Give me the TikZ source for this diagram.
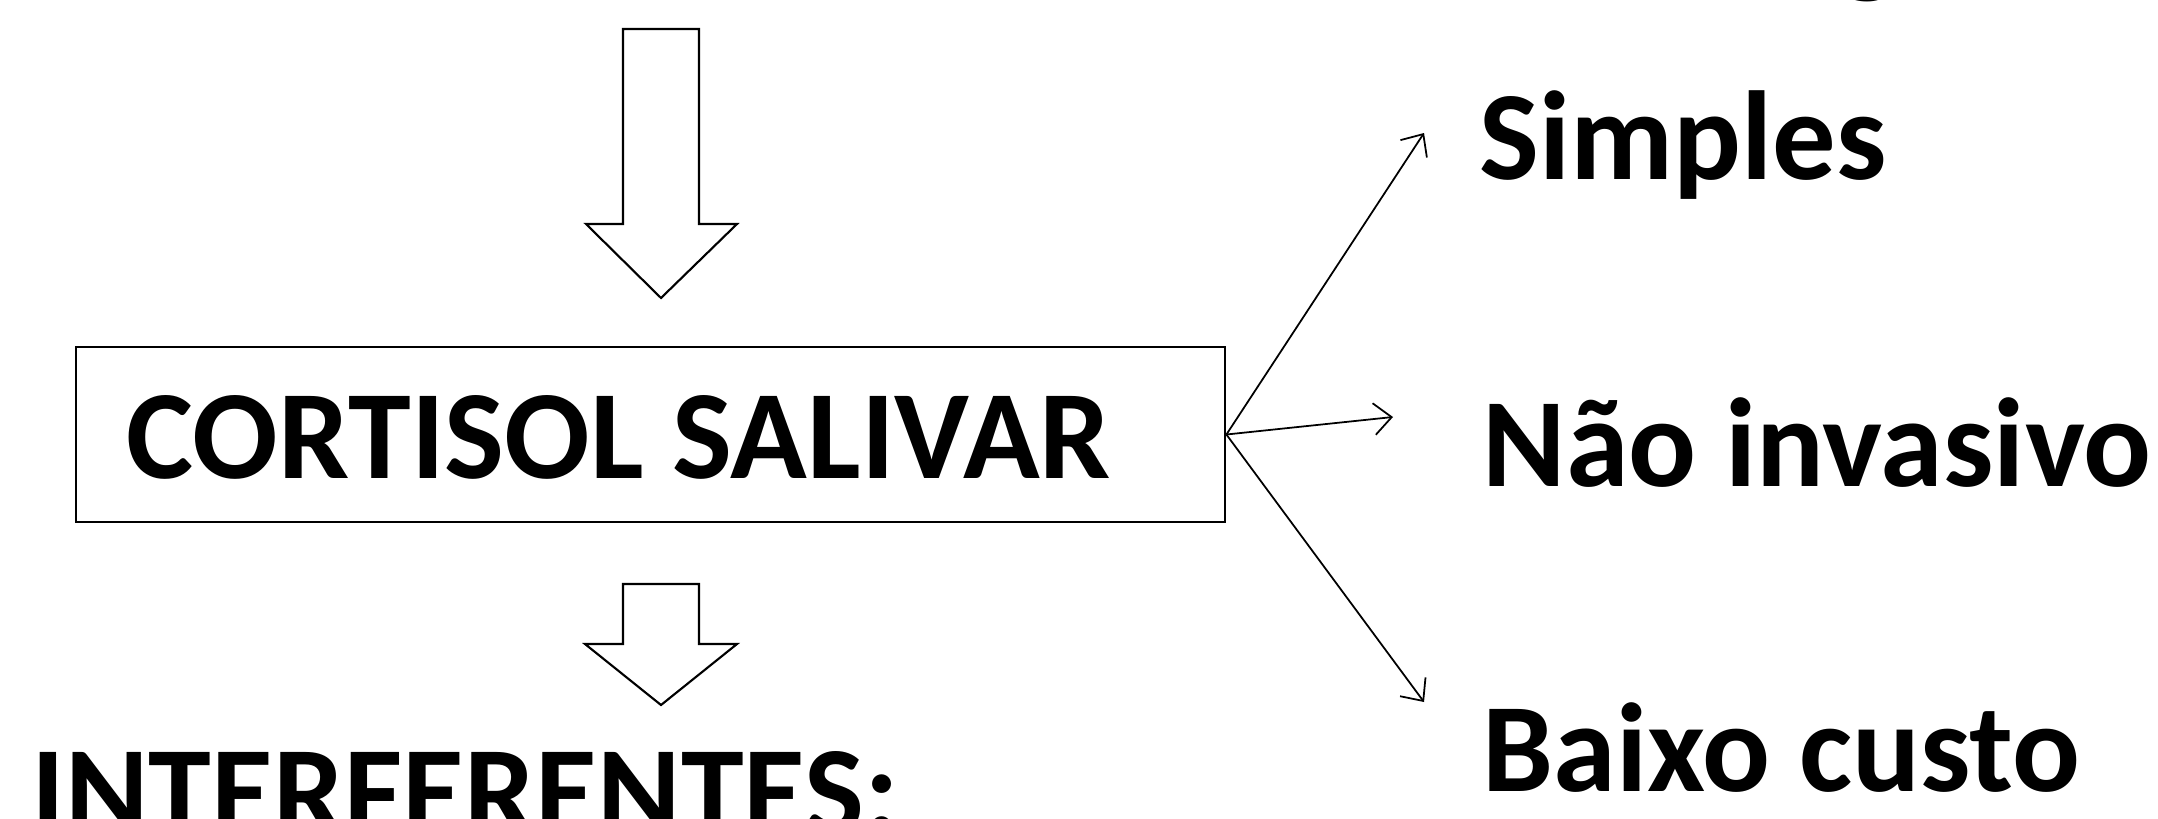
\documentclass[tikz,border=0pt]{standalone}
\usepackage{fontspec}
\setmainfont{Carlito}
\usetikzlibrary{arrows.meta}

\begin{document}
\begin{tikzpicture}[x=0.01cm, y=-0.01cm,
        tekst/.style={inner sep=0pt, anchor=base west, font=\fontsize{36}{43}\selectfont\bfseries},
        blokpijl/.style={line width=0.6pt, line join=miter},
        pijl/.style={line width=0.5pt, -{Straight Barb[length=5pt, width=9pt]}}]
    \useasboundingbox (0,0) rectangle (2158,818);

    % Blokpijlen
    \draw[blokpijl] (623,29) -- (699,29) -- (699,224) -- (737,224) -- (661,298) -- (586,224) -- (623,224) -- cycle;
    \draw[blokpijl] (623,584) -- (699,584) -- (699,644) -- (737,644) -- (661,705) -- (585,644) -- (623,644) -- cycle;

    % Kader
    \node[draw, line width=0.6pt, minimum width=11.49cm, minimum height=1.75cm] (kader) at (650.5,434.5) {};
    \node[tekst] (cortisol) at (126,478) {CORTISOL SALIVAR};
    \node[tekst] (interf) at (31,834) {INTERFERENTES:};

    % Eigenschappen
    \node[tekst] (afgesneden) at (1838,-19) {g};
    \node[tekst] (simples) at (1479,179) {Simples};
    \node[tekst] (naoinv) at (1482,486) {Não invasivo};
    \node[tekst] (baixo) at (1482,791) {Baixo custo};

    % Eindpunten
    \coordinate (boven) at (1424,133);
    \coordinate (midden) at (1393,417);
    \coordinate (onder) at (1424,702);

    % Pijlen
    \draw[pijl] (kader.east) -- (boven);
    \draw[pijl] (kader.east) -- (midden);
    \draw[pijl] (kader.east) -- (onder);
\end{tikzpicture}
\end{document}
